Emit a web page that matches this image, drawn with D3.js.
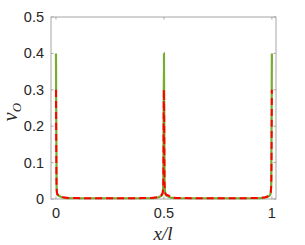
<!DOCTYPE html>
<html>
<head>
<meta charset="utf-8">
<script src="https://cdn.jsdelivr.net/npm/d3@7"></script>
<style>
  body { margin: 0; background: #fff; }
  svg { display: block; }
</style>
</head>
<body>
<svg id="chart" width="305" height="245"></svg>
<script>
// sample positions along x/l
const xPos = [0, 0.003, 0.006, 0.01, 0.02, 0.03, 0.04, 0.06, 0.1, 0.2, 0.3, 0.4, 0.44, 0.46, 0.47, 0.48, 0.49, 0.494, 0.497, 0.5,
  0.503, 0.506, 0.51, 0.52, 0.53, 0.54, 0.56, 0.6, 0.7, 0.8, 0.9, 0.94, 0.96, 0.97, 0.98, 0.99, 0.994, 0.997, 1];
// green solid curve
const greenVals = [0.4, 0.03, 0.012, 0.01, 0.007, 0.004, 0.003, 0.0025, 0.002, 0.002, 0.002, 0.002, 0.0025, 0.003, 0.004, 0.006, 0.01, 0.015, 0.04, 0.4,
  0.04, 0.015, 0.01, 0.007, 0.004, 0.003, 0.0025, 0.002, 0.002, 0.002, 0.002, 0.0025, 0.003, 0.004, 0.006, 0.01, 0.015, 0.04, 0.4];
// red dashed curve
const redVals = [0.3, 0.03, 0.014, 0.012, 0.01, 0.006, 0.004, 0.003, 0.0025, 0.002, 0.002, 0.0025, 0.003, 0.004, 0.005, 0.007, 0.012, 0.017, 0.04, 0.3,
  0.04, 0.017, 0.012, 0.01, 0.006, 0.004, 0.003, 0.0025, 0.002, 0.002, 0.0025, 0.003, 0.004, 0.005, 0.007, 0.012, 0.017, 0.04, 0.3];
const xTicks = [0, 0.5, 1];
const yTicks = [0, 0.1, 0.2, 0.3, 0.4, 0.5];

const svg = d3.select("#chart");
const plotL = 51, plotR = 276, plotT = 17, plotB = 199;

const x = d3.scaleLinear().domain([-0.023, 1.019]).range([plotL, plotR]);
const y = d3.scaleLinear().domain([0, 0.5]).range([plotB, plotT]);

const frameColor = "#a6a6a6";
const textColor = "#262626";

// axes box
svg.append("rect")
  .attr("x", plotL).attr("y", plotT)
  .attr("width", plotR - plotL).attr("height", plotB - plotT)
  .attr("fill", "none").attr("stroke", frameColor).attr("stroke-width", 1);

const tickLen = 2.5;
xTicks.forEach(t => {
  svg.append("line").attr("x1", x(t)).attr("x2", x(t)).attr("y1", plotB).attr("y2", plotB - tickLen)
    .attr("stroke", frameColor);
  svg.append("line").attr("x1", x(t)).attr("x2", x(t)).attr("y1", plotT).attr("y2", plotT + tickLen)
    .attr("stroke", frameColor);
  svg.append("text").attr("x", x(t)).attr("y", 218)
    .attr("text-anchor", "middle")
    .attr("font-family", "Liberation Sans, Arial, sans-serif")
    .attr("font-size", 14.5).attr("fill", textColor)
    .text(t);
});
yTicks.forEach(t => {
  svg.append("line").attr("x1", plotL).attr("x2", plotL + tickLen).attr("y1", y(t)).attr("y2", y(t))
    .attr("stroke", frameColor);
  svg.append("line").attr("x1", plotR).attr("x2", plotR - tickLen).attr("y1", y(t)).attr("y2", y(t))
    .attr("stroke", frameColor);
  svg.append("text").attr("x", 44).attr("y", y(t) + 5)
    .attr("text-anchor", "end")
    .attr("font-family", "Liberation Sans, Arial, sans-serif")
    .attr("font-size", 14.5).attr("fill", textColor)
    .text(t);
});

const line = d3.line()
  .x((d, i) => x(xPos[i]))
  .y(d => y(d))
  .curve(d3.curveMonotoneX);

svg.append("path")
  .datum(greenVals)
  .attr("d", line)
  .attr("fill", "none")
  .attr("stroke", "#77ac30")
  .attr("stroke-width", 2.2);

svg.append("path")
  .datum(redVals)
  .attr("d", line)
  .attr("fill", "none")
  .attr("stroke", "#ff0000")
  .attr("stroke-width", 2)
  .attr("stroke-dasharray", "7,4");

// axis labels
svg.append("text")
  .attr("x", 163).attr("y", 240)
  .attr("text-anchor", "middle")
  .attr("font-family", "Liberation Serif, Times New Roman, serif")
  .attr("font-style", "italic")
  .attr("font-size", 19).attr("fill", textColor)
  .text("x/l");

const yl = svg.append("text")
  .attr("transform", "translate(17,112) rotate(-90)")
  .attr("text-anchor", "middle")
  .attr("font-family", "Liberation Serif, Times New Roman, serif")
  .attr("font-style", "italic")
  .attr("font-size", 20).attr("fill", textColor);
yl.append("tspan").text("ν");
yl.append("tspan").attr("font-size", 13).attr("dy", 4).text("O");
</script>
</body>
</html>
